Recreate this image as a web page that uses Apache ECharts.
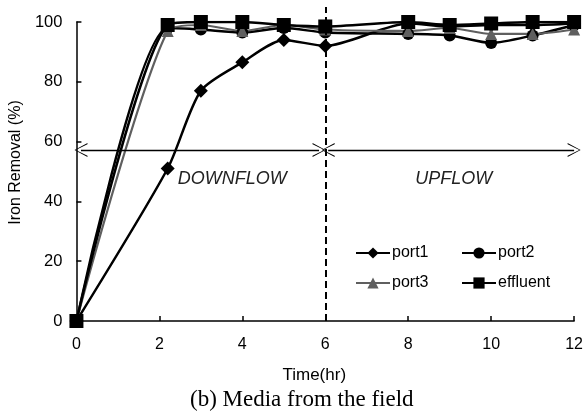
<!DOCTYPE html>
<html>
<head>
<meta charset="utf-8">
<script src="https://cdn.jsdelivr.net/npm/echarts@6/dist/echarts.min.js"></script>
<style>
html,body{margin:0;padding:0;background:#fff;}
#chart{width:586px;height:412px;}
</style>
</head>
<body>
<div id="chart"></div>
<script>
// ---- data ----
var times    = [0, 2.2, 3, 4, 5, 6, 8, 9, 10, 11, 12];
var port1    = [0, 51, 77, 86.5, 94, 92, 99.5, 98.5, 99, 99, 99.5];
var port2    = [0, 98, 97.5, 96.5, 98, 96.5, 96, 95.5, 93, 95.5, 99];
var port3    = [0, 97, 99, 97, 99, 97.5, 97, 98, 96, 96, 97.5];
var effluent = [0, 99, 100, 100, 99, 98.5, 100, 99, 99.5, 100, 100];
var xTicks = [0, 2, 4, 6, 8, 10, 12];
var yTicks = [0, 20, 40, 60, 80, 100];
var phaseBoundary = 6;
var arrowY = 57.2;
var arrowSpans = [[0.11, 5.85], [6.07, 12.0]];
var phaseLabels = ['DOWNFLOW', 'UPFLOW'];
var phaseLabelX = [3.76, 9.1];
var phaseLabelY = 47.5;

function pairs(ys){ return times.map(function(t,i){ return [t, ys[i]]; }); }

var chevron = 'path://M50,0 L100,100 L91,100 L50,10 L9,100 L0,100 Z';

var chart = echarts.init(document.getElementById('chart'));
var font = 'Liberation Sans, Arial, sans-serif';
var smoothVal = 0.25;

var option = {
  animation: false,
  backgroundColor: '#fff',
  title: {
    text: '(b) Media from the field',
    left: 185, top: 383,
    textStyle: {fontFamily: 'Liberation Serif, Times New Roman, serif', fontWeight: 'normal', fontSize: 23, color: '#000'}
  },
  grid: [
    {left: 76, right: 10, top: 22, bottom: 91},
    {left: 76, right: 10, top: 7, bottom: 91}
  ],
  xAxis: [{
    type: 'value', gridIndex: 0, min: 0, max: 12, interval: 2,
    name: 'Time(hr)', nameLocation: 'middle', nameGap: 46,
    nameTextStyle: {fontFamily: font, fontSize: 17, color: '#000', padding: [0, 22, 0, 0]},
    axisLine: {lineStyle: {color: '#000', width: 1.5}},
    axisTick: {inside: true, length: 5, lineStyle: {color: '#000', width: 1.5}},
    axisLabel: {fontFamily: font, fontSize: 16, color: '#000', margin: 16},
    splitLine: {show: false}
  }, {
    type: 'value', gridIndex: 1, min: 0, max: 12, show: false
  }],
  yAxis: [{
    type: 'value', gridIndex: 0, min: 0, max: 100, interval: 20,
    name: 'Iron Removal (%)', nameLocation: 'middle', nameGap: 50, nameRotate: 90,
    nameTextStyle: {fontFamily: font, fontSize: 16, color: '#000', padding: [0, 0, 0, 18]},
    axisLine: {show: true, lineStyle: {color: '#000', width: 1.5}},
    axisTick: {show: true, inside: true, length: 5, lineStyle: {color: '#000', width: 1.5}},
    axisLabel: {fontFamily: font, fontSize: 16.5, color: '#000', margin: 14},
    splitLine: {show: false}
  }, {
    type: 'value', gridIndex: 1, min: 0, max: 105, show: false
  }],
  legend: [{
    orient: 'vertical', left: 350, top: 240, itemGap: 14, itemWidth: 34, itemHeight: 14,
    data: ['port1', 'port3'],
    textStyle: {fontFamily: font, fontSize: 16, color: '#000', padding: [0, 0, 0, -3]}
  }, {
    orient: 'vertical', left: 456, top: 240, itemGap: 14, itemWidth: 34, itemHeight: 14,
    data: ['port2', 'effluent'],
    textStyle: {fontFamily: font, fontSize: 16, color: '#000', padding: [0, 0, 0, -3]}
  }],
  series: [
    {
      name: 'port1', type: 'line', data: pairs(port1), smooth: smoothVal,
      symbol: 'diamond', symbolSize: 14, color: '#000',
      lineStyle: {color: '#000', width: 2.5}, itemStyle: {color: '#000'},
      markLine: {
        silent: true, symbol: [chevron, chevron], symbolSize: [14, 13],
        lineStyle: {color: '#000', width: 1.3, type: 'solid'},
        label: {show: false},
        data: arrowSpans.map(function(s){ return [{coord: [s[0], arrowY]}, {coord: [s[1], arrowY]}]; })
      },
      markPoint: {
        silent: true, symbol: 'circle', symbolSize: 0,
        label: {show: true, position: 'inside', fontFamily: font, fontStyle: 'italic', fontSize: 18, color: '#222',
          formatter: function(p){ return p.name; }},
        data: phaseLabels.map(function(n, i){ return {name: n, coord: [phaseLabelX[i], phaseLabelY]}; })
      }
    },
    {
      name: 'port2', type: 'line', data: pairs(port2), smooth: smoothVal,
      symbol: 'circle', symbolSize: 12, color: '#000',
      lineStyle: {color: '#000', width: 2.5}, itemStyle: {color: '#000'}
    },
    {
      name: 'port3', type: 'line', data: pairs(port3), smooth: smoothVal,
      symbol: 'triangle', symbolSize: 12, color: '#5f5f5f',
      lineStyle: {color: '#5f5f5f', width: 2.2}, itemStyle: {color: '#5f5f5f'}
    },
    {
      name: 'effluent', type: 'line', data: pairs(effluent), smooth: smoothVal,
      symbol: 'rect', symbolSize: 14, color: '#000',
      lineStyle: {color: '#000', width: 2.5}, itemStyle: {color: '#000'}
    },
    {
      name: 'boundary', type: 'line', xAxisIndex: 1, yAxisIndex: 1, data: [],
      markLine: {
        silent: true, symbol: ['none', 'none'],
        lineStyle: {color: '#000', width: 2, type: [7, 4]},
        label: {show: false},
        data: [{xAxis: phaseBoundary}]
      }
    }
  ]
};
chart.setOption(option);
</script>
</body>
</html>
